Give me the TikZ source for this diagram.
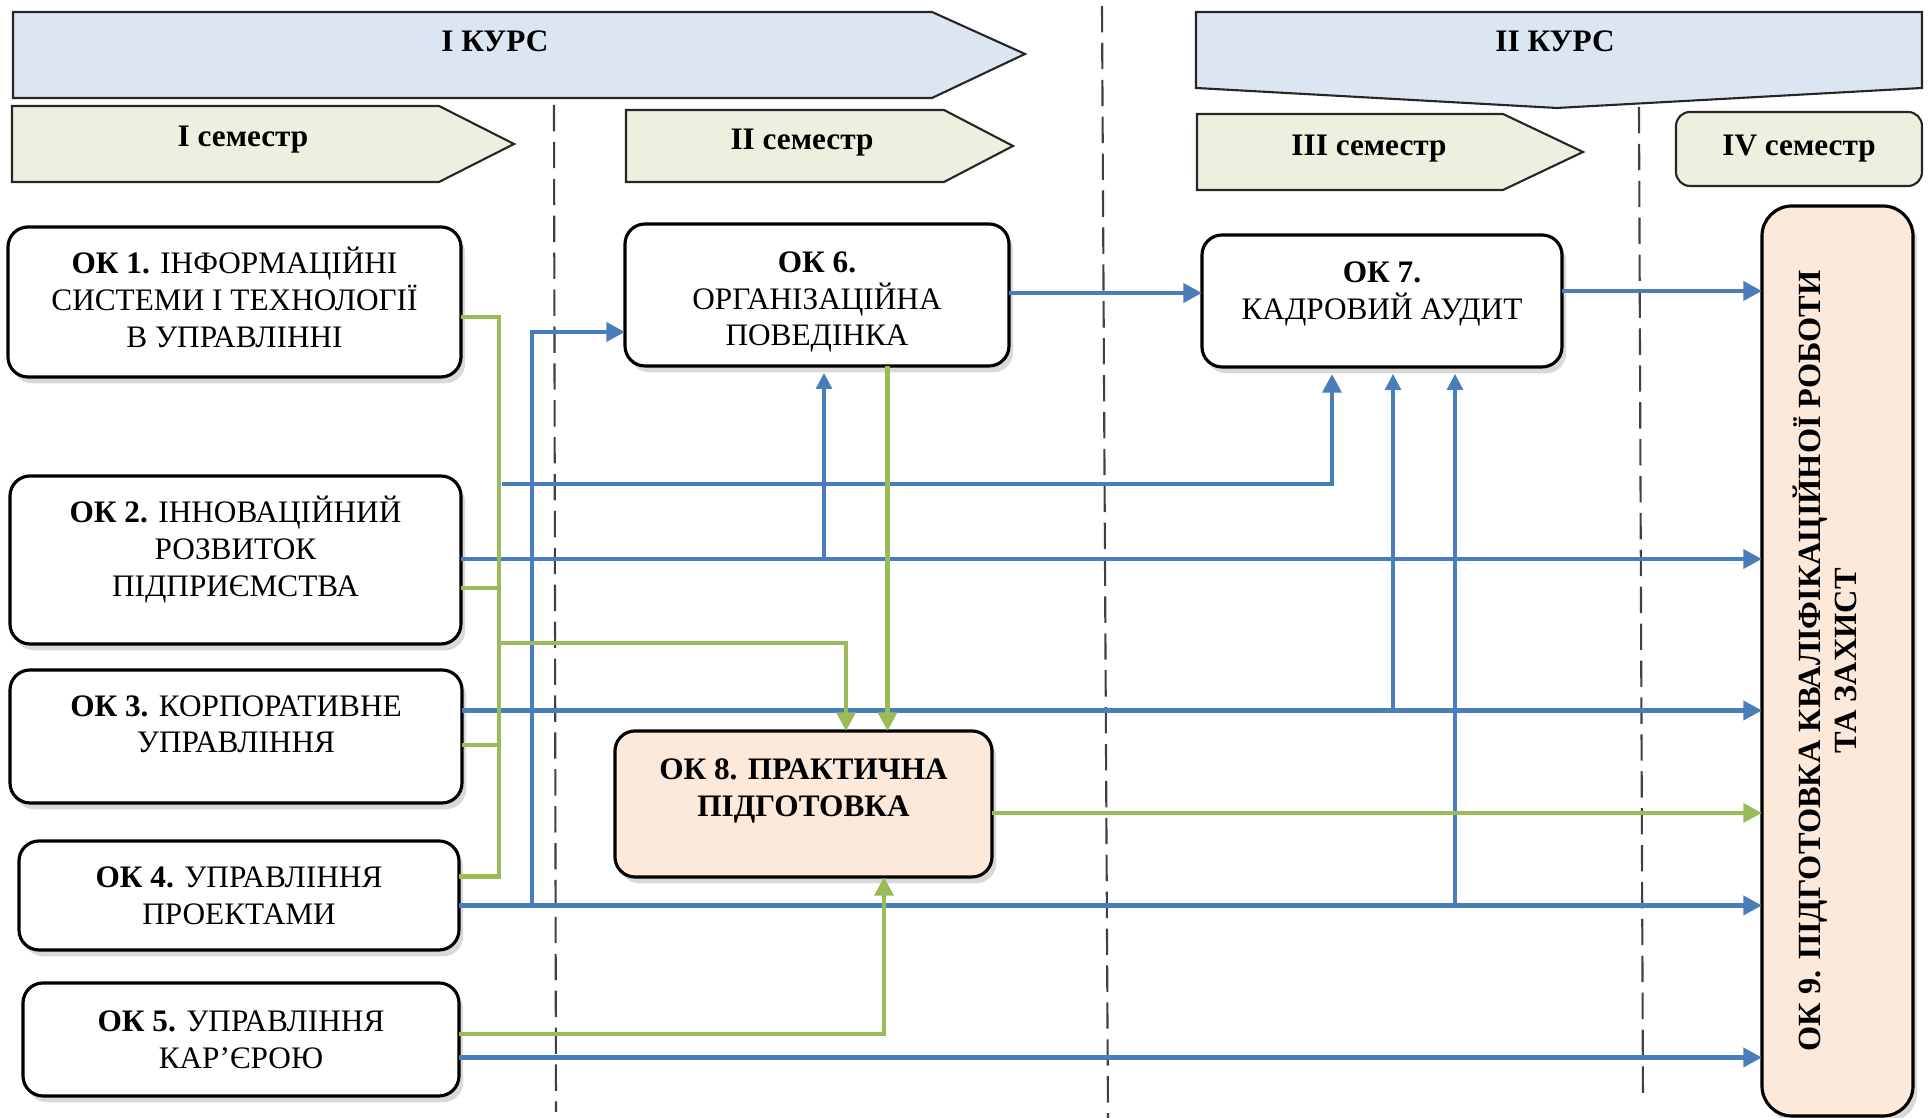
\documentclass[tikz,border=0pt]{standalone}
\usepackage{fontspec}
\setmainfont{Liberation Serif}
\usetikzlibrary{arrows.meta,shapes,shadows}
\definecolor{bl}{HTML}{4A7EBB}
\definecolor{gr}{HTML}{9BBB59}
\definecolor{kurs}{HTML}{DCE6F2}
\definecolor{sem}{HTML}{EBF1DE}
\definecolor{pch}{HTML}{FDE9D9}
\tikzset{every node/.style={font=\fontsize{8.9}{10.5}\selectfont},
  k/.style={draw, line width=0.9pt, rounded corners=0.2cm, fill=white, align=center,
    inner sep=0, outer sep=0, drop shadow={shadow xshift=1.2pt, shadow yshift=-1.8pt, opacity=0.3}},
  hd/.style={draw=black!85, line width=0.6pt},
  b/.style={draw=bl, line width=1.4pt, -{Triangle[length=5.3pt,width=5.3pt]}},
  bt/.style={draw=bl, line width=0.9pt, shorten >=2pt, -{Triangle[length=4.5pt,width=4.5pt]}},
  g/.style={draw=gr, line width=1.4pt},
  dsh/.style={draw=black!75, line width=0.6pt, dash pattern=on 7.5pt off 3pt},
  lift/.style={text depth=#1}}
\begin{document}
\begin{tikzpicture}
    \useasboundingbox (0,0) rectangle (19.3,11.18);
    \draw[dsh] (5.54,10.13) -- (5.56,0.06);
    \draw[dsh] (11.02,11.12) -- (11.08,0);
    \draw[dsh] (16.39,10.11) -- (16.43,0.16);

    \draw[hd, fill=kurs] (0.13,11.06) -- (9.32,11.06) -- (10.25,10.64) -- (9.32,10.2) -- (0.13,10.2) -- cycle;
    \draw[hd, fill=kurs] (11.96,11.06) -- (19.22,11.06) -- (19.22,10.3) -- (15.57,10.1) -- (11.96,10.3) -- cycle;
    \draw[hd, fill=sem] (0.12,10.12) -- (4.39,10.12) -- (5.14,9.74) -- (4.39,9.36) -- (0.12,9.36) -- cycle;
    \draw[hd, fill=sem] (6.26,10.08) -- (9.44,10.08) -- (10.13,9.72) -- (9.44,9.36) -- (6.26,9.36) -- cycle;
    \draw[hd, fill=sem] (11.97,10.04) -- (15.03,10.04) -- (15.83,9.66) -- (15.03,9.28) -- (11.97,9.28) -- cycle;
    \draw[hd, fill=sem, rounded corners=0.14cm] (16.76,9.32) rectangle (19.22,10.06);
    \node (C1) at (4.95,10.77) {\textbf{I КУРС}};
    \node (C2) at (15.55,10.77) {\textbf{II КУРС}};
    \node (S1) at (2.43,9.78) {\textbf{I семестр}};
    \node (S2) at (8.02,9.75) {\textbf{II семестр}};
    \node (S3) at (13.69,9.69) {\textbf{III семестр}};
    \node (S4) at (17.99,9.69) {\textbf{IV семестр}};

    \node[k, minimum width=4.53cm, minimum height=1.50cm, lift=2.5pt] (OK1) at (2.345,8.16)
      {\textbf{ОК 1.} ІНФОРМАЦІЙНІ\\СИСТЕМИ І ТЕХНОЛОГІЇ\\В УПРАВЛІННІ};
    \node[k, minimum width=4.51cm, minimum height=1.68cm, lift=8pt] (OK2) at (2.355,5.58)
      {\textbf{ОК 2.} ІННОВАЦІЙНИЙ\\РОЗВИТОК\\ПІДПРИЄМСТВА};
    \node[k, minimum width=4.52cm, minimum height=1.33cm, lift=7pt] (OK3) at (2.36,3.815)
      {\textbf{ОК 3.} КОРПОРАТИВНЕ\\УПРАВЛІННЯ};
    \node[k, minimum width=4.40cm, minimum height=1.09cm] (OK4) at (2.39,2.225)
      {\textbf{ОК 4.} УПРАВЛІННЯ\\ПРОЕКТАМИ};
    \node[k, minimum width=4.36cm, minimum height=1.13cm] (OK5) at (2.41,0.785)
      {\textbf{ОК 5.} УПРАВЛІННЯ\\КАР’ЄРОЮ};
    \node[k, minimum width=3.84cm, minimum height=1.42cm, lift=0pt, text height=29pt] (OK6) at (8.17,8.23)
      {\textbf{ОК 6.}\\ОРГАНІЗАЦІЙНА\\ПОВЕДІНКА};
    \node[k, minimum width=3.60cm, minimum height=1.32cm, lift=5.7pt] (OK7) at (13.82,8.17)
      {\textbf{ОК 7.}\\КАДРОВИЙ АУДИТ};
    \node[k, fill=pch, minimum width=3.77cm, minimum height=1.46cm, lift=9.2pt] (OK8) at (8.035,3.14)
      {\textbf{ОК 8. ПРАКТИЧНА}\\\textbf{ПІДГОТОВКА}};
    \node[k, fill=pch, rounded corners=0.3cm, minimum width=1.51cm, minimum height=9.1cm] (OK9) at (18.375,4.57) {};
    \node[rotate=90, align=center, font=\fontsize{9.2}{10.2}\selectfont\bfseries] (L9) at (18.25,4.57)
      {ОК 9. ПІДГОТОВКА КВАЛІФІКАЦІЙНОЇ РОБОТИ\\ТА ЗАХИСТ};

    \foreach \i/\dy in {2/0.01,3/0.26,4/-0.1,5/-0.18}
      \draw[b] ([yshift=\dy cm]OK\i.east) coordinate (s\i) -- (s\i -| OK9.west);
    \draw[b] ([yshift=0.02cm]OK6.east) coordinate (e6) -- (e6 -| OK7.west);
    \draw[b] ([yshift=0.1cm]OK7.east) coordinate (e7) -- (e7 -| OK9.west);
    \coordinate (t1) at (5.02,6.34);
    \draw[b, shorten >=2pt] (t1) -| ([xshift=-0.5cm]OK7.south);
    \draw[b] ([xshift=0.73cm]s4) |- ([yshift=-0.37cm]OK6.west);
    \coordinate (u1) at ([xshift=0.07cm]OK6.south);
    \coordinate (u2) at ([xshift=0.11cm]OK7.south);
    \coordinate (u3) at ([xshift=0.73cm]OK7.south);
    \draw[bt] (u1 |- s2) -- (u1);
    \draw[bt] (u2 |- s3) -- (u2);
    \draw[bt] (u3 |- s4) -- (u3);

    \draw[g] ([yshift=-0.15cm]OK1.east) -- ++(0.38,0) coordinate (gt) |- ([yshift=0.19cm]OK4.east);
    \foreach \i/\dy in {2/-0.28,3/-0.085}
      \draw[g] ([yshift=\dy cm]OK\i.east) coordinate (r\i) -- (r\i -| gt);
    \coordinate (gj) at (4.99,4.75);
    \draw[g, -{Triangle[length=5.3pt,width=5.3pt]}] (gj) -| ([xshift=0.425cm]OK8.north);
    \draw[g, -{Triangle[length=5.3pt,width=5.3pt]}] ([xshift=0.705cm]OK6.south) coordinate (v6) -- (v6 |- OK8.north);
    \draw[g, -{Triangle[length=5.3pt,width=5.3pt]}] ([yshift=-0.09cm]OK8.east) coordinate (e8) -- (e8 -| OK9.west);
    \draw[g, -{Triangle[length=5.3pt,width=5.3pt]}] ([yshift=0.055cm]OK5.east) -| ([xshift=0.805cm]OK8.south);
\end{tikzpicture}
\end{document}
